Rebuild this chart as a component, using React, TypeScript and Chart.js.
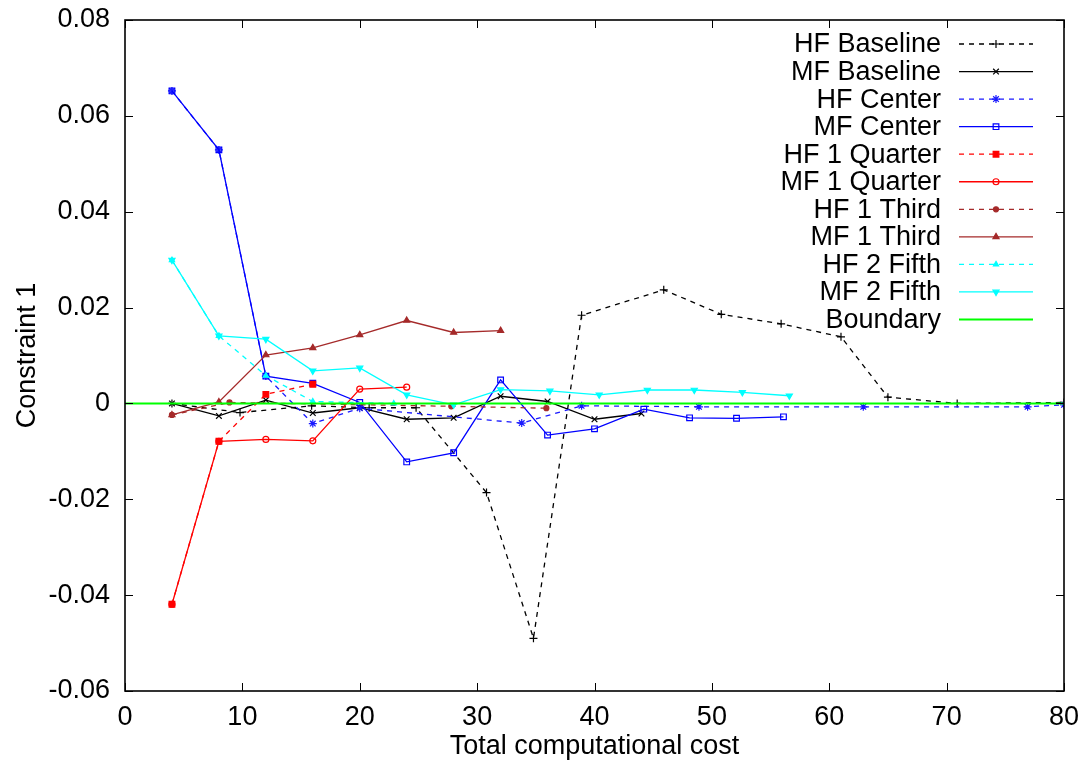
import React, { useEffect, useRef } from 'react';
import { Chart, registerables } from 'chart.js';
import { drawPoint } from 'chart.js/helpers';

Chart.register(...registerables);

// ---- data ----
const hfBaselineX = [4, 9.8, 15.9, 20.8, 24.8, 30.8, 34.8, 38.9, 45.9, 50.8, 55.9, 61, 65, 70.9, 80];
const hfBaselineY = [0.0, -0.0019, -0.0005, -0.0009, -0.0009, -0.0186, -0.049, 0.0184, 0.0237, 0.0186, 0.0166, 0.0139, 0.0013, 0.0, 0.0002];

const mfBaselineX = [4, 8, 12, 16, 20, 24, 28, 32, 36, 40, 44];
const mfBaselineY = [0.0, -0.0026, 0.0007, -0.002, -0.0009, -0.0033, -0.003, 0.0015, 0.0004, -0.0033, -0.0021];

const hfCenterX = [4, 8, 12, 16, 20, 33.8, 38.9, 48.9, 62.9, 76.9, 80];
const hfCenterY = [0.0652, 0.0529, 0.0057, -0.0042, -0.001, -0.0041, -0.0005, -0.0007, -0.0007, -0.0007, -0.0003];

const mfCenterX = [4, 8, 12, 16, 20, 24, 28, 32, 36, 40, 44.2, 48.1, 52.1, 56.1];
const mfCenterY = [0.0652, 0.0529, 0.0057, 0.0042, 0.0002, -0.0122, -0.0103, 0.0049, -0.0066, -0.0053, -0.0012, -0.003, -0.0031, -0.0028];

const hf1QuarterX = [4, 8, 12, 16];
const hf1QuarterY = [-0.0419, -0.0079, 0.0019, 0.004];

const mf1QuarterX = [4, 8, 12, 16, 20, 24];
const mf1QuarterY = [-0.0419, -0.0079, -0.0075, -0.0078, 0.003, 0.0034];

const hf1ThirdX = [4, 8.9, 27.8, 35.9];
const hf1ThirdY = [-0.0024, 0.0002, -0.0006, -0.001];

const mf1ThirdX = [4, 8, 12, 16, 20, 24, 28, 32];
const mf1ThirdY = [-0.0024, 0.0003, 0.0101, 0.0116, 0.0143, 0.0173, 0.0148, 0.0152];

const hf2FifthX = [4, 8, 12, 16, 22.9];
const hf2FifthY = [0.0299, 0.0141, 0.0058, 0.0004, 0.0];

const mf2FifthX = [4, 8, 12, 16, 20, 24, 28, 32, 36.2, 40.4, 44.5, 48.5, 52.6, 56.6];
const mf2FifthY = [0.0299, 0.0141, 0.0134, 0.0068, 0.0074, 0.0018, -0.0003, 0.0029, 0.0026, 0.0018, 0.0028, 0.0028, 0.0023, 0.0016];

const boundaryX = [0, 80];
const boundaryY = [0, 0];

const xTickValues = [0, 10, 20, 30, 40, 50, 60, 70, 80];
const yTickValues = [-0.06, -0.04, -0.02, 0, 0.02, 0.04, 0.06, 0.08];

const FONT = '"Liberation Sans", Arial, Helvetica, sans-serif';
const FS = 27;
const LW = 1.3;

const pts = (xs: number[], ys: number[]) => xs.map((x, i) => ({ x, y: ys[i] }));

type S = {
  label: string; xs: number[]; ys: number[]; color: string; dashed: boolean;
  style: any; radius: number; fill: boolean; rotation?: number; width?: number;
};

const series: S[] = [
  { label: 'HF Baseline', xs: hfBaselineX, ys: hfBaselineY, color: '#000000', dashed: true, style: 'cross', radius: 4, fill: false },
  { label: 'MF Baseline', xs: mfBaselineX, ys: mfBaselineY, color: '#000000', dashed: false, style: 'crossRot', radius: 4, fill: false },
  { label: 'HF Center', xs: hfCenterX, ys: hfCenterY, color: '#1a1aff', dashed: true, style: 'star', radius: 4, fill: false },
  { label: 'MF Center', xs: mfCenterX, ys: mfCenterY, color: '#0000ff', dashed: false, style: 'rect', radius: 4, fill: false },
  { label: 'HF 1 Quarter', xs: hf1QuarterX, ys: hf1QuarterY, color: '#ff0000', dashed: true, style: 'rect', radius: 4, fill: true },
  { label: 'MF 1 Quarter', xs: mf1QuarterX, ys: mf1QuarterY, color: '#ff0000', dashed: false, style: 'circle', radius: 3, fill: false },
  { label: 'HF 1 Third', xs: hf1ThirdX, ys: hf1ThirdY, color: '#a52a2a', dashed: true, style: 'circle', radius: 2.5, fill: true },
  { label: 'MF 1 Third', xs: mf1ThirdX, ys: mf1ThirdY, color: '#a52a2a', dashed: false, style: 'triangle', radius: 3.5, fill: true },
  { label: 'HF 2 Fifth', xs: hf2FifthX, ys: hf2FifthY, color: '#00ffff', dashed: true, style: 'triangle', radius: 3, fill: true },
  { label: 'MF 2 Fifth', xs: mf2FifthX, ys: mf2FifthY, color: '#00ffff', dashed: false, style: 'triangle', radius: 3.5, fill: true, rotation: 180 },
  { label: 'Boundary', xs: boundaryX, ys: boundaryY, color: '#00ff00', dashed: false, style: false, radius: 0, fill: false, width: 2 },
];

const DASH = [5, 5];

const framePlugin = {
  id: 'gnuFrame',
  afterDraw(chart: any) {
    const { ctx, chartArea: a, scales } = chart;
    const x = scales.x, y = scales.y;
    ctx.save();
    ctx.strokeStyle = '#000';
    ctx.lineWidth = 1;
    const tl = 8;
    ctx.beginPath();
    for (const v of xTickValues) {
      const px = Math.round(x.getPixelForValue(v)) + 0.5;
      ctx.moveTo(px, a.bottom); ctx.lineTo(px, a.bottom - tl);
      ctx.moveTo(px, a.top); ctx.lineTo(px, a.top + tl);
    }
    for (const v of yTickValues) {
      const py = Math.round(y.getPixelForValue(v)) + 0.5;
      ctx.moveTo(a.left, py); ctx.lineTo(a.left + tl, py);
      ctx.moveTo(a.right, py); ctx.lineTo(a.right - tl, py);
    }
    ctx.stroke();
    ctx.lineWidth = 1.6;
    ctx.strokeRect(a.left, a.top, a.right - a.left, a.bottom - a.top);

    // legend (gnuplot style: text right-aligned, sample on the right)
    ctx.font = `${FS}px ${FONT}`;
    ctx.textAlign = 'right';
    ctx.textBaseline = 'middle';
    const textRight = 941;
    const x0 = 959, x1 = 1033;
    series.forEach((s, i) => {
      const yy = 44 + i * 27.55;
      ctx.fillStyle = '#000';
      ctx.fillText(s.label, textRight, yy + 1);
      ctx.save();
      ctx.strokeStyle = s.color;
      ctx.lineWidth = s.width || LW;
      ctx.setLineDash(s.dashed ? DASH : []);
      ctx.beginPath();
      ctx.moveTo(x0, yy); ctx.lineTo(x1, yy);
      ctx.stroke();
      ctx.setLineDash([]);
      if (s.style) {
        ctx.strokeStyle = s.color;
        ctx.fillStyle = s.fill ? s.color : 'rgba(0,0,0,0)';
        ctx.lineWidth = 1.2;
        drawPoint(ctx, { pointStyle: s.style, rotation: s.rotation || 0, radius: s.radius, borderWidth: 1.2 } as any, (x0 + x1) / 2, yy);
      }
      ctx.restore();
    });
    ctx.restore();
  },
};

export default function App() {
  const ref = useRef<HTMLCanvasElement | null>(null);
  useEffect(() => {
    if (!ref.current) return;
    const n = series.length;
    const chart = new Chart(ref.current, {
      type: 'line',
      data: {
        datasets: series.map((s, i) => ({
          label: s.label,
          data: pts(s.xs, s.ys),
          borderColor: s.color,
          backgroundColor: s.fill ? s.color : 'rgba(0,0,0,0)',
          borderWidth: s.width || LW,
          borderDash: s.dashed ? DASH : [],
          pointStyle: s.style,
          pointRadius: s.radius,
          pointRotation: s.rotation || 0,
          pointBorderColor: s.color,
          pointBackgroundColor: s.fill ? s.color : 'rgba(0,0,0,0)',
          pointBorderWidth: 1.2,
          fill: false,
          tension: 0,
          order: n - i,
        })),
      },
      options: {
        animation: false,
        responsive: false,
        maintainAspectRatio: false,
        devicePixelRatio: 1,
        layout: { padding: { left: 0, right: 25, top: 20, bottom: 0 } },
        plugins: { legend: { display: false }, tooltip: { enabled: false } },
        events: [],
        scales: {
          x: {
            type: 'linear',
            min: 0,
            max: 80,
            grid: { display: false, drawTicks: false },
            border: { display: false },
            afterFit: (sc: any) => { sc.height = 74; sc.paddingLeft = 0; sc.paddingRight = 0; },
            afterBuildTicks: (sc: any) => { sc.ticks = xTickValues.map((v) => ({ value: v })); },
            ticks: {
              color: '#000',
              padding: 10,
              maxRotation: 0,
              font: { family: FONT, size: FS },
              callback: (v: any) => String(v),
            },
            title: {
              display: true,
              text: 'Total computational cost',
              color: '#000',
              font: { family: FONT, size: FS },
              padding: { top: 0, bottom: 2 },
            },
          },
          y: {
            type: 'linear',
            min: -0.06,
            max: 0.08,
            grid: { display: false, drawTicks: false },
            border: { display: false },
            afterFit: (sc: any) => { sc.width = 125; sc.paddingTop = 0; sc.paddingBottom = 0; },
            afterBuildTicks: (sc: any) => { sc.ticks = yTickValues.map((v) => ({ value: v })); },
            ticks: {
              color: '#000',
              padding: 15,
              font: { family: FONT, size: FS },
              callback: (v: any) => String(Number(Number(v).toFixed(2))),
            },
            title: {
              display: true,
              text: 'Constraint 1',
              color: '#000',
              font: { family: FONT, size: FS },
              padding: { top: 11, bottom: 0 },
            },
          },
        },
      },
      plugins: [framePlugin],
    });
    return () => chart.destroy();
  }, []);
  return (
    <div style={{ position: 'absolute', left: 0, top: 0, width: 1089, height: 765, background: '#fff' }}>
      <canvas ref={ref} width={1089} height={765} style={{ display: 'block', width: 1089, height: 765 }} />
    </div>
  );
}
